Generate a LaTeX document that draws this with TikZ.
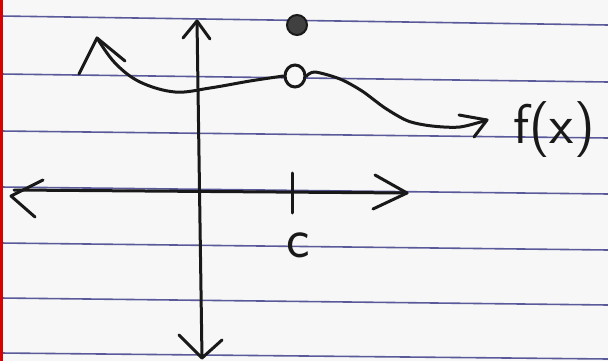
\documentclass[tikz,border=0pt]{standalone}
\usetikzlibrary{shapes.geometric}
\begin{document}
\begin{tikzpicture}[x=1pt,y=-1pt,
  pen/.style={draw=black!90,line width=3pt,line cap=round,line join=round},
  rule/.style={draw=blue!40!black!80,line width=1.6pt,opacity=0.8},
  lbl/.style={font=\sffamily\fontsize{56}{56}\selectfont,text=black!90,inner sep=0pt}]
\useasboundingbox (0,0) rectangle (608,361);
\fill[black!3] (0,0) rectangle (608,361);
% ruled lines
\foreach \a/\b in {16/25,74/82,131/138,187/194,243/250,298/305,353/359}
  \draw[rule] (0,\a) -- (608,\b);
% red margin
\draw[red!85!black,line width=2.5pt] (1.5,0) -- (1.5,361);
% y axis
\coordinate (ytop) at (197,21);
\coordinate (ybot) at (202,358);
\draw[pen] (ytop) -- (ybot);
\draw[pen] (183,38) -- (ytop) -- (210,39);
\draw[pen] (179,335) -- (ybot) -- (222,340);
% x axis
\coordinate (xl) at (11,196);
\coordinate (xr) at (407,193);
\draw[pen] (14,190) -- (xr);
\draw[pen] (43,180) -- (xl) -- (35,217);
\draw[pen] (375,175) -- (xr) -- (373,209);
% tick
\coordinate (tt) at (292,173);
\coordinate (tb) at (292,213);
\draw[pen] (tt) -- (tb);
\node[lbl] (c) at (298,245) {c};
% points
\node[ellipse,draw=black!90,fill=black!3,line width=3pt,minimum width=20pt,minimum height=22pt,inner sep=0pt] (open) at (295,76) {};
\node[circle,fill=black!75,draw=black!90,line width=2pt,minimum size=20pt,inner sep=0pt] (fill) at (297,25) {};
% curve
\coordinate (ctip) at (97,38);
\coordinate (rtip) at (487,120);
\draw[pen] plot[smooth,tension=0.6] coordinates {(ctip) (115,63) (140,82) (175,92) (210,88) (250,81) (open.west)};
\draw[pen] plot[smooth,tension=0.5] coordinates {(open.east) (315,72) (340,79) (362,91) (385,108) (408,121) (432,126) (460,127) (rtip)};
\draw[pen] (79,74) -- (ctip) -- (125,61);
\draw[pen] (459,115) -- (rtip) -- (474,137);
\node[lbl] (fx) at (554,130) {f(x)};
\end{tikzpicture}
\end{document}
